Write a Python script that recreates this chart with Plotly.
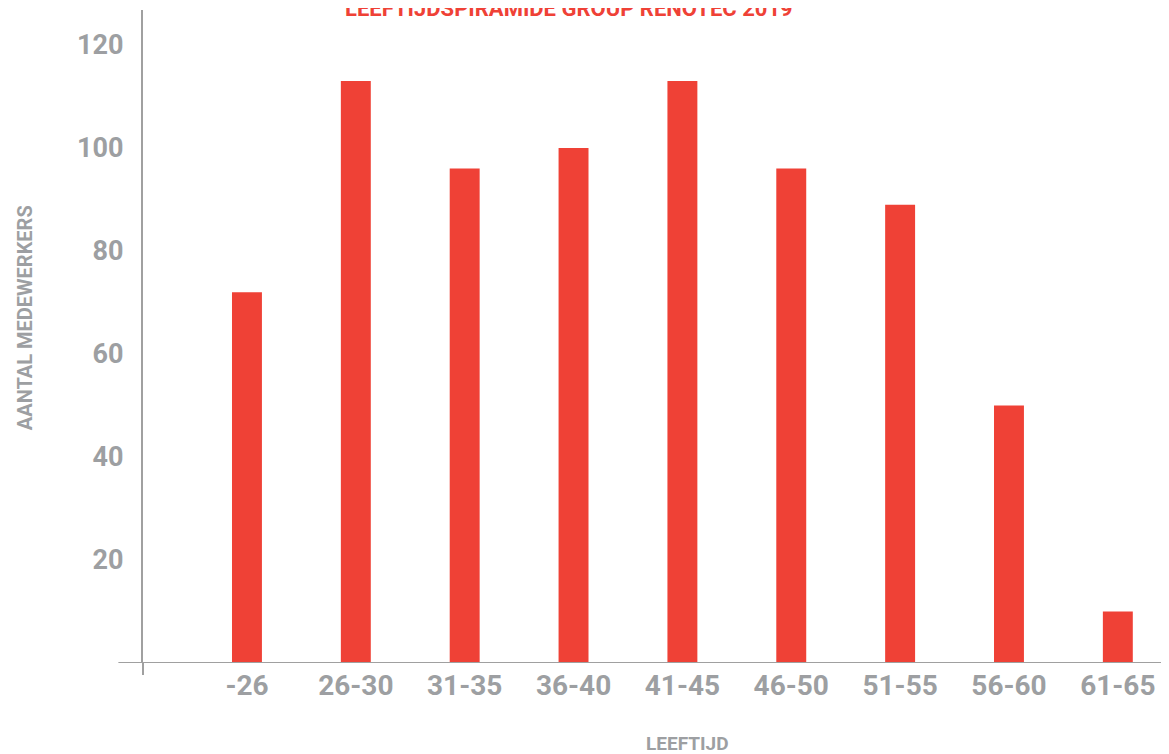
import plotly.graph_objects as go

age_groups = ['-26', '26-30', '31-35', '36-40', '41-45', '46-50', '51-55', '56-60', '61-65']
employees = [72, 113, 96, 100, 113, 96, 89, 50, 10]
y_ticks = [20, 40, 60, 80, 100, 120]

red = '#EF4136'
grey = '#9D9FA2'
line_grey = '#A0A0A0'
font_name = 'Roboto'

fig = go.Figure()
fig.add_trace(go.Bar(
    x=age_groups,
    y=employees,
    marker_color=red,
    marker_line_width=0,
    width=0.275,
    hoverinfo='x+y',
    showlegend=False,
))

# page body has an 8px margin, so the figure is sized to fit the window
fig.update_layout(
    width=1161,
    height=746,
    margin=dict(l=135, r=0, t=2, b=91),
    paper_bgcolor='white',
    plot_bgcolor='white',
    font=dict(family=font_name, color=grey),
    xaxis=dict(
        type='category',
        range=[-0.955, 8.47],
        showgrid=False,
        showline=False,
        zeroline=False,
        ticks='',
        ticklabelstandoff=3,
        tickfont=dict(size=28, family=font_name, color=grey, weight='bold'),
    ),
    yaxis=dict(
        range=[0, 126.8],
        tickvals=y_ticks,
        showgrid=False,
        zeroline=False,
        showline=True,
        linecolor=line_grey,
        linewidth=2,
        ticks='',
        ticklabelstandoff=12,
        tickfont=dict(size=27, family=font_name, color=grey, weight='bold'),
    ),
    shapes=[
        dict(
            type='line', xref='paper', yref='y',
            x0=-0.024, x1=1, y0=0, y1=0,
            line=dict(color=line_grey, width=2),
        ),
        dict(
            type='line', xref='paper', yref='paper',
            x0=0, x1=0, y0=0, y1=-0.0184,
            line=dict(color=line_grey, width=2),
        ),
    ],
    annotations=[
        dict(
            text='LEEFTIJDSPIRAMIDE GROUP RENOTEC 2019',
            xref='paper', yref='paper', x=0.415, y=1, xanchor='center', yanchor='bottom',
            yshift=-13, showarrow=False,
            font=dict(size=22, family=font_name, color=red, weight='bold'),
        ),
        dict(
            text='LEEFTIJD',
            xref='paper', yref='paper', x=0.531, y=0, xanchor='center', yanchor='middle',
            yshift=-80, showarrow=False,
            font=dict(size=19, family=font_name, color=grey, weight='bold'),
        ),
        dict(
            text='AANTAL MEDEWERKERS',
            xref='paper', yref='paper', x=0, y=0.528, xanchor='center', yanchor='middle',
            xshift=-118, textangle=-90, showarrow=False,
            font=dict(size=20, family=font_name, color=grey, weight='bold'),
        ),
    ],
)

fig.write_html('out.html')
